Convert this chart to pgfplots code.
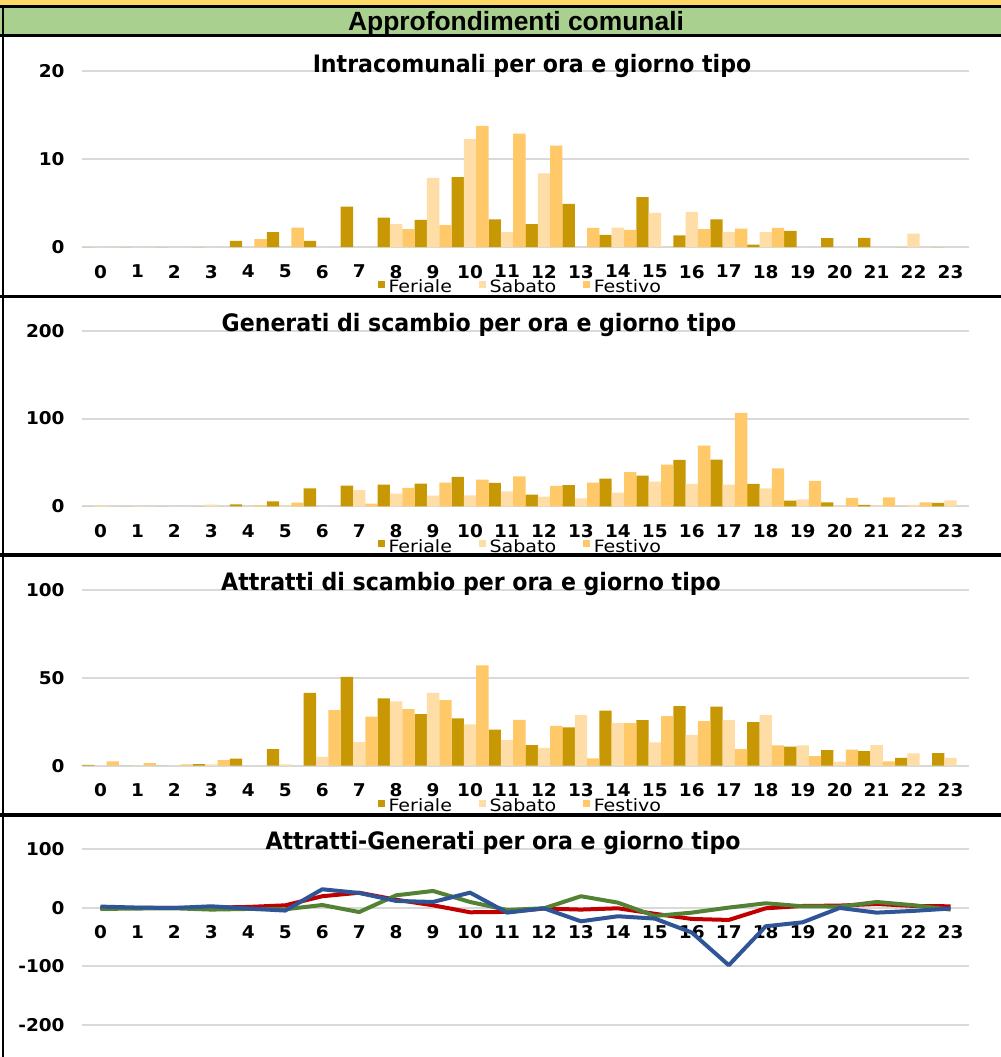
\documentclass[border=0pt]{standalone}
\usepackage{pgfplots}
\pgfplotsset{compat=1.18}
\usepackage{fontspec}
\setmainfont{DejaVu Sans}
\newfontfamily\headfont{Liberation Sans}
\newfontfamily\titlefont[FakeStretch=0.92]{DejaVu Sans}
\newfontfamily\tickfont[FakeStretch=1.05]{DejaVu Sans}
\newfontfamily\legfont[FakeStretch=1.12]{DejaVu Sans}
\definecolor{feriale}{RGB}{200,151,4}
\definecolor{sabato}{RGB}{255,221,166}
\definecolor{festivo}{RGB}{255,200,105}
\definecolor{gridgray}{RGB}{217,217,217}
\definecolor{hdrgreen}{RGB}{169,208,142}
\definecolor{hdryellow}{RGB}{255,217,102}
\definecolor{lred}{RGB}{192,0,0}
\definecolor{lgreen}{RGB}{84,130,53}
\definecolor{lblue}{RGB}{47,85,151}
\pgfplotsset{
  panel/.style={
    scale only axis, width=443.5pt, height=87.8pt,
    xmin=-0.5, xmax=23.5, xtick={0,...,23},
    axis line style={draw=none}, major tick length=0pt,
    ymajorgrids, grid style={gridgray, line width=1pt},
    tick label style={font=\tickfont\bfseries\fontsize{8.8}{9}\selectfont, inner sep=1.5pt},
    /pgf/number format/assume math mode=true,
    yticklabel style={xshift=-7pt},
    clip=false,
  },
  barpanel/.style={panel, ybar=0pt, bar width=6.1667pt, ymin=0,
    xticklabel style={yshift=-7.3pt},
    legend columns=3,
    legend style={draw=none, fill=none, at={(0.494,-0.232)}, anchor=center,
      font=\legfont\fontsize{8.5}{10}\selectfont,
      nodes={inner sep=0.6pt},
      /tikz/every even column/.append style={column sep=13pt}},
    legend image code/.code={\fill[##1] (0pt,-0.2pt) rectangle (3.2pt,3.4pt); \path (4.6pt,0pt);},
  },
}
\begin{document}
\begin{tikzpicture}
\path[use as bounding box] (0,0) rectangle (500.5pt,-528.5pt);
\fill[white] (0,0) rectangle (500.5pt,-528.5pt);
% header
\fill[hdryellow] (0,0) rectangle (500.5pt,-2.8pt);
\fill[hdrgreen] (0,-3.5pt) rectangle (500.5pt,-17.5pt);
\draw[black, line width=1.5pt] (0,-3.25pt) -- (500.5pt,-3.25pt);
\draw[black, line width=1.5pt] (0,-17.75pt) -- (500.5pt,-17.75pt);
\draw[black, line width=0.6pt] (1.5pt,-4pt) -- (1.5pt,-17pt);
\draw[black, line width=1.15pt] (1.43pt,-18pt) -- (1.43pt,-528.5pt);
\node[anchor=base, font=\headfont\bfseries\fontsize{13.2}{15}\selectfont] at (258pt,-15pt) {Approfondimenti comunali};
% separators
\draw[black, line width=1.75pt] (0,-148.25pt) -- (500.5pt,-148.25pt);
\draw[black, line width=1.75pt] (0,-277.6pt) -- (500.5pt,-277.6pt);
\draw[black, line width=1.75pt] (0,-407.6pt) -- (500.5pt,-407.6pt);

% Panel 1
\begin{axis}[barpanel, at={(41pt,-123.5pt)}, anchor=south west,
  ymax=20, ytick={0,10,20}, yticklabels={0,10,20}]
\addplot[fill=feriale, draw=none] coordinates {(0,0)(1,0)(2,0)(3,0)(4,0.7)(5,1.7)(6,0.7)(7,4.6)(8,3.35)(9,3.1)(10,7.95)(11,3.15)(12,2.6)(13,4.9)(14,1.37)(15,5.67)(16,1.33)(17,3.16)(18,0.27)(19,1.83)(20,1.0)(21,1.03)(22,0)(23,0)};
\addplot[fill=sabato, draw=none] coordinates {(0,0)(1,0)(2,0)(3,0)(4,0)(5,0)(6,0)(7,0)(8,2.6)(9,7.87)(10,12.3)(11,1.7)(12,8.4)(13,0)(14,2.2)(15,3.88)(16,4.0)(17,1.7)(18,1.7)(19,0)(20,0)(21,0)(22,1.52)(23,0)};
\addplot[fill=festivo, draw=none] coordinates {(0,0)(1,0)(2,0)(3,0)(4,0.9)(5,2.2)(6,0)(7,0)(8,2.05)(9,2.5)(10,13.8)(11,12.9)(12,11.55)(13,2.17)(14,1.94)(15,0)(16,2.05)(17,2.1)(18,2.17)(19,0)(20,0)(21,0)(22,0)(23,0)};
\legend{Feriale,Sabato,Festivo}
\end{axis}

% Panel 2
\begin{axis}[barpanel, at={(41pt,-253.15pt)}, anchor=south west,
  ymax=200, ytick={0,100,200}, yticklabels={0,100,200}]
\addplot[fill=feriale, draw=none] coordinates {(0,0)(1,0)(2,0)(3,0)(4,2.3)(5,5.7)(6,20.5)(7,23.6)(8,24.7)(9,25.9)(10,33.5)(11,26.6)(12,13.3)(13,24)(14,31.6)(15,35)(16,52.9)(17,53.2)(18,25.5)(19,6.5)(20,4.6)(21,1.5)(22,0)(23,3.8)};
\addplot[fill=sabato, draw=none] coordinates {(0,1)(1,0.5)(2,0)(3,2)(4,0.5)(5,1)(6,0)(7,18.3)(8,14.4)(9,12.2)(10,12.5)(11,17.1)(12,11)(13,9.1)(14,15.6)(15,28.1)(16,25.5)(17,24.7)(18,20.5)(19,8)(20,1)(21,1)(22,1.5)(23,6.8)};
\addplot[fill=festivo, draw=none] coordinates {(0,0)(1,0)(2,0)(3,0)(4,1)(5,4.2)(6,0)(7,3)(8,20.9)(9,27)(10,30.4)(11,34.2)(12,23.2)(13,27)(14,38.8)(15,47.5)(16,69.2)(17,106.5)(18,43.3)(19,28.9)(20,9.5)(21,10.3)(22,4.6)(23,0)};
\legend{Feriale,Sabato,Festivo}
\end{axis}

% Panel 3
\begin{axis}[barpanel, at={(41pt,-382.85pt)}, anchor=south west,
  ymax=100, ytick={0,50,100}, yticklabels={0,50,100}]
\addplot[fill=feriale, draw=none] coordinates {(0,0.5)(1,0)(2,0)(3,0.9)(4,4)(5,9.5)(6,41.5)(7,50.6)(8,38.4)(9,29.4)(10,26.9)(11,20.6)(12,11.7)(13,21.8)(14,31.3)(15,25.9)(16,33.9)(17,33.7)(18,24.8)(19,10.8)(20,8.9)(21,8.3)(22,4.5)(23,7.2)};
\addplot[fill=sabato, draw=none] coordinates {(0,0)(1,0)(2,0)(3,0.8)(4,0)(5,0.8)(6,5.1)(7,13.4)(8,36.7)(9,41.5)(10,23.5)(11,14.6)(12,10.2)(13,28.8)(14,24.2)(15,13.3)(16,17.6)(17,25.9)(18,28.8)(19,11.6)(20,2.3)(21,11.7)(22,7.0)(23,4.4)};
\addplot[fill=festivo, draw=none] coordinates {(0,2.5)(1,1.5)(2,0.8)(3,3.2)(4,0)(5,0)(6,31.6)(7,28)(8,32.2)(9,37.3)(10,57.2)(11,26.1)(12,22.7)(13,4.2)(14,24.2)(15,28.2)(16,25.4)(17,9.5)(18,11.6)(19,5.5)(20,9.1)(21,2.5)(22,0)(23,0)};
\legend{Feriale,Sabato,Festivo}
\end{axis}

% Panel 4
\begin{axis}[panel, at={(41pt,-512.5pt)}, anchor=south west,
  ymin=-200, ymax=100, ytick={-200,-100,0,100}, yticklabels={-200,-100,0,100},
  xticklabel style={yshift=51.6pt}]
\addplot[lred, line width=2pt, line join=round] coordinates {(0,0)(1,0)(2,0)(3,0.5)(4,1.7)(5,4.5)(6,20)(7,26)(8,14)(9,4.5)(10,-7.4)(11,-6.8)(12,-1)(13,-2.8)(14,-0.6)(15,-10)(16,-18.8)(17,-20.5)(18,-0.6)(19,3.4)(20,4)(21,6.8)(22,3.4)(23,2.8)};
\addplot[lgreen, line width=2pt, line join=round] coordinates {(0,-1.7)(1,-1)(2,-0.6)(3,-2.8)(4,-1.7)(5,-2.3)(6,5)(7,-7)(8,21.6)(9,29)(10,10.2)(11,-3.4)(12,-0.6)(13,20)(14,9.1)(15,-13.7)(16,-8)(17,0.6)(18,8)(19,2.8)(20,2.3)(21,10.2)(22,4.6)(23,-2.8)};
\addplot[lblue, line width=2pt, line join=round] coordinates {(0,2.3)(1,0.6)(2,0)(3,2.8)(4,-1)(5,-4.5)(6,31.9)(7,25.6)(8,12)(9,10.2)(10,26.2)(11,-8)(12,-0.6)(13,-22.8)(14,-14.2)(15,-18.2)(16,-42)(17,-97.9)(18,-31.3)(19,-24.5)(20,0)(21,-8)(22,-5)(23,-1)};
\end{axis}

% titles
\node[anchor=base, font=\titlefont\bfseries\fontsize{12}{14}\selectfont] at (266pt,-36pt) {Intracomunali per ora e giorno tipo};
\node[anchor=base, font=\titlefont\bfseries\fontsize{12}{14}\selectfont] at (239.5pt,-165.8pt) {Generati di scambio per ora e giorno tipo};
\node[anchor=base, font=\titlefont\bfseries\fontsize{12}{14}\selectfont] at (235.5pt,-295pt) {Attratti di scambio per ora e giorno tipo};
\node[anchor=base, font=\titlefont\bfseries\fontsize{12}{14}\selectfont] at (251.5pt,-424.7pt) {Attratti-Generati per ora e giorno tipo};
\end{tikzpicture}
\end{document}
